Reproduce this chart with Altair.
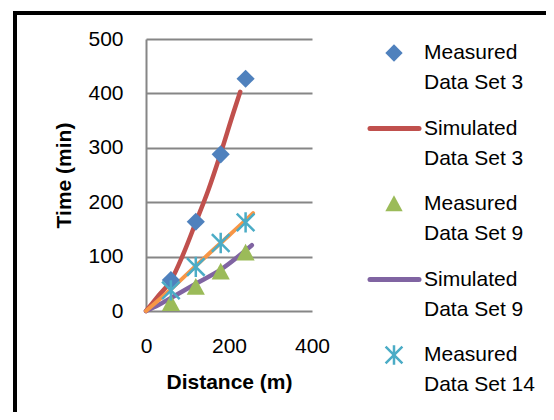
import altair as alt
import pandas as pd

# ---- data ----
meas_x = [60, 120, 180, 240]
meas3_y = [57, 164, 288, 427]
meas9_y = [14, 44, 72, 107]
meas14_y = [38, 81, 125, 163]

sim3_x = [0, 30, 60, 90, 120, 150, 180, 210, 227]
sim3_y = [0, 28, 56, 105, 163, 222, 290, 363, 403]
sim9_x = [0, 30, 60, 120, 180, 255]
sim9_y = [0, 11, 24, 50, 76, 121]
sim14_x = [0, 60, 120, 180, 240, 258]
sim14_y = [0, 40, 83, 125, 167, 180]

series = ["Measured|Data Set 3", "Simulated|Data Set 3", "Measured|Data Set 9",
          "Simulated|Data Set 9", "Measured|Data Set 14"]
series_kind = ["filled", "line", "filled", "line", "star"]
colors = ["#4F81BD", "#C0504D", "#9BBB59", "#8064A2", "#4BACC6"]
orange = "#F79646"
asterisk = "M-0.97,-0.97L0.97,0.97M-0.97,0.97L0.97,-0.97M0,-1.12L0,1.12"
triangle = "M0,-1L1,0.85L-1,0.85Z"
shapes = ["diamond", "stroke", triangle, "stroke", asterisk]

FONT = "Liberation Sans"

filled_df = pd.DataFrame({
    "x": meas_x + meas_x,
    "y": meas3_y + meas9_y,
    "series": [series[0]] * 4 + [series[2]] * 4,
})
star_df = pd.DataFrame({"x": meas_x, "y": meas14_y, "series": [series[4]] * 4})
sim_df = pd.DataFrame({
    "x": sim3_x + sim9_x,
    "y": sim3_y + sim9_y,
    "series": [series[1]] * len(sim3_x) + [series[3]] * len(sim9_x),
    "o": list(range(len(sim3_x))) + list(range(len(sim9_x))),
})
orange_df = pd.DataFrame({"x": sim14_x, "y": sim14_y})
legend_df = pd.DataFrame({"series": series, "kind": series_kind,
                          "idx": list(range(len(series)))})

xs = alt.Scale(domain=[0, 400], nice=False)
ys = alt.Scale(domain=[0, 500], nice=False)
x_enc = alt.X("x:Q", scale=xs, axis=alt.Axis(
    values=[0, 200, 400], title="Distance (m)", grid=False, domain=False, ticks=False,
    labelFlush=False, labelPadding=24, titlePadding=15, labelFontSize=21, labelFont=FONT,
    labelColor="black", titleFontSize=21, titleFont=FONT, titleFontWeight="bold",
    titleColor="black"))
y_enc = alt.Y("y:Q", scale=ys, axis=alt.Axis(
    values=[0, 100, 200, 300, 400, 500], title="Time (min)", grid=True,
    gridColor="#868686", gridWidth=2, domainColor="#868686", domainWidth=2, ticks=False,
    labelFlush=False, labelPadding=23, titlePadding=13, labelFontSize=21, labelFont=FONT,
    labelColor="black", titleFontSize=21, titleFont=FONT, titleFontWeight="bold",
    titleColor="black"))

color = alt.Color("series:N", scale=alt.Scale(domain=series, range=colors), legend=None)
shape = alt.Shape("series:N", scale=alt.Scale(domain=series, range=shapes), legend=None)

frame = alt.Chart(pd.DataFrame({"a": [0]})).mark_rect(
    fill="transparent", stroke="black", strokeWidth=4
).encode(x=alt.value(-131), x2=alt.value(700), y=alt.value(-26), y2=alt.value(700))

orange_line = alt.Chart(orange_df).mark_line(
    color=orange, strokeWidth=4, interpolate="monotone", strokeCap="round"
).encode(x=x_enc, y=y_enc)

sim_lines = alt.Chart(sim_df).mark_line(
    strokeWidth=4.5, interpolate="monotone", strokeCap="round"
).encode(x=x_enc, y=y_enc, color=color, detail="series:N", order="o:Q")

filled_pts = alt.Chart(filled_df).mark_point(
    filled=True, opacity=1, size=330
).encode(x=x_enc, y=y_enc, color=color, shape=shape)

star_pts = alt.Chart(star_df).mark_point(
    filled=False, opacity=1, size=330, strokeWidth=2.5
).encode(x=x_enc, y=y_enc, color=color, shape=shape)

main = alt.layer(frame, sim_lines, orange_line, filled_pts, star_pts)

# ---- legend drawn as its own layer on a linear entry scale ----
leg_y = alt.Y("idx:Q", scale=alt.Scale(domain=[0, 4], range=[14, 316], nice=False, zero=False),
              axis=None)
leg_base = alt.Chart(legend_df)
leg_filled = leg_base.transform_filter(alt.datum.kind == "filled").mark_point(
    filled=True, opacity=1, size=300
).encode(x=alt.value(248), y=leg_y, color=color, shape=shape)
leg_star = leg_base.transform_filter(alt.datum.kind == "star").mark_point(
    filled=False, opacity=1, size=300, strokeWidth=2.5
).encode(x=alt.value(248), y=leg_y, color=color, shape=shape)
leg_line = leg_base.transform_filter(alt.datum.kind == "line").mark_rule(
    strokeWidth=5, strokeCap="round"
).encode(x=alt.value(224), x2=alt.value(273), y=leg_y, color=color)
leg_text = leg_base.mark_text(
    align="left", baseline="middle", lineBreak="|", lineHeight=30,
    font=FONT, fontSize=21, color="black"
).encode(x=alt.value(278), y=leg_y, text="series:N")
leg = alt.layer(leg_filled, leg_star, leg_line, leg_text)

chart = alt.layer(main, leg).resolve_scale(y="independent").properties(
    width=166, height=272,
    autosize=alt.AutoSizeParams(type="none"),
    padding={"left": 138, "top": 31, "right": 234, "bottom": 101},
    background="white",
).configure_view(stroke=None)

chart.save("out.html", embed_options={"renderer": "svg", "actions": False})
